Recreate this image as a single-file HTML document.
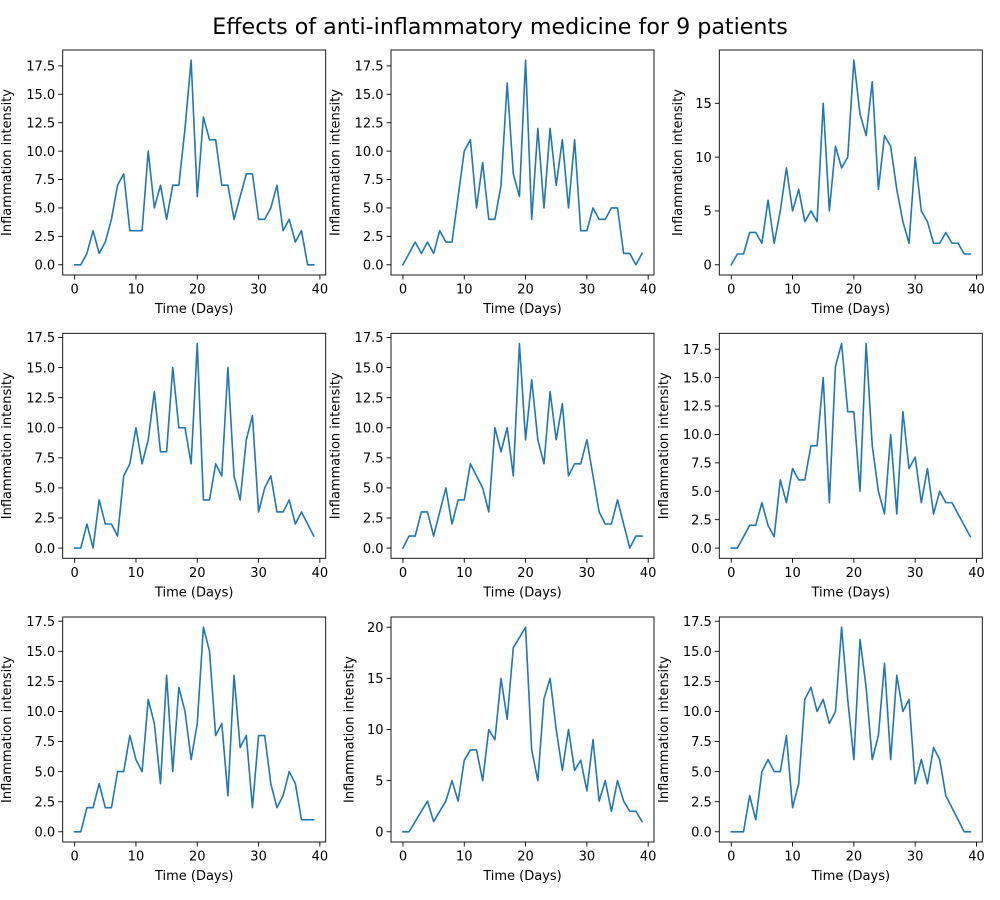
<!DOCTYPE html>
<html><head><meta charset="utf-8"><style>
html,body{margin:0;padding:0;background:#fff;}
svg{display:block;font-family:"DejaVu Sans","Liberation Sans",sans-serif;}
</style></head><body>
<svg id="fig" width="1000" height="900" viewBox="0 0 1000 900" xmlns="http://www.w3.org/2000/svg">
<rect width="1000" height="900" fill="#fff"/>
<text x="500" y="34" text-anchor="middle" font-size="22.2" fill="#000">Effects of anti-inflammatory medicine for 9 patients</text>
</svg>
<script>
const days = Array.from({length:40},(_, i)=>i);
const patient1 = [0,0,1,3,1,2,4,7,8,3,3,3,10,5,7,4,7,7,12,18,6,13,11,11,7,7,4,6,8,8,4,4,5,7,3,4,2,3,0,0];
const patient2 = [0,1,2,1,2,1,3,2,2,6,10,11,5,9,4,4,7,16,8,6,18,4,12,5,12,7,11,5,11,3,3,5,4,4,5,5,1,1,0,1];
const patient3 = [0,1,1,3,3,2,6,2,5,9,5,7,4,5,4,15,5,11,9,10,19,14,12,17,7,12,11,7,4,2,10,5,4,2,2,3,2,2,1,1];
const patient4 = [0,0,2,0,4,2,2,1,6,7,10,7,9,13,8,8,15,10,10,7,17,4,4,7,6,15,6,4,9,11,3,5,6,3,3,4,2,3,2,1];
const patient5 = [0,1,1,3,3,1,3,5,2,4,4,7,6,5,3,10,8,10,6,17,9,14,9,7,13,9,12,6,7,7,9,6,3,2,2,4,2,0,1,1];
const patient6 = [0,0,1,2,2,4,2,1,6,4,7,6,6,9,9,15,4,16,18,12,12,5,18,9,5,3,10,3,12,7,8,4,7,3,5,4,4,3,2,1];
const patient7 = [0,0,2,2,4,2,2,5,5,8,6,5,11,9,4,13,5,12,10,6,9,17,15,8,9,3,13,7,8,2,8,8,4,2,3,5,4,1,1,1];
const patient8 = [0,0,1,2,3,1,2,3,5,3,7,8,8,5,10,9,15,11,18,19,20,8,5,13,15,10,6,10,6,7,4,9,3,5,2,5,3,2,2,1];
const patient9 = [0,0,0,3,1,5,6,5,5,8,2,4,11,12,10,11,9,10,17,11,6,16,12,6,8,14,6,13,10,11,4,6,4,7,6,3,2,1,0,0];
const xTicks = [0,10,20,30,40];
const yTicksDecimal = [0,2.5,5,7.5,10,12.5,15,17.5];
const yTicksInt5 = [0,5,10,15];
const yTicksInt5to20 = [0,5,10,15,20];

const series = [patient1,patient2,patient3,patient4,patient5,patient6,patient7,patient8,patient9];
const colLeft = [62.7,391,719.3];
const rowTop = [50,333.3,617];
const W = 263, H = 225;
const NS = "http://www.w3.org/2000/svg";
const svg = document.getElementById('fig');
function mk(tag, attrs, parent){
  const e = document.createElementNS(NS, tag);
  for (const k in attrs) e.setAttribute(k, attrs[k]);
  (parent||svg).appendChild(e);
  return e;
}
series.forEach((vals, idx)=>{
  const r = Math.floor(idx/3), c = idx%3;
  const L = colLeft[c], T = rowTop[r];
  const g = mk('g', {});
  
  
  const xmin = -1.95, xmax = 40.95;
  const vmax = Math.max(...vals), vmin = Math.min(...vals);
  const pad = (vmax - vmin) * 0.05;
  const ymin = vmin - pad, ymax = vmax + pad;
  const sx = v => L + (v - xmin) / (xmax - xmin) * W;
  const sy = v => T + H - (v - ymin) / (ymax - ymin) * H;
  let ticks, decimal;
  if (vmax <= 18) { ticks = yTicksDecimal; decimal = true; }
  else if (vmax < 20) { ticks = yTicksInt5; decimal = false; }
  else { ticks = yTicksInt5to20; decimal = false; }
  ticks = ticks.filter(t => t >= ymin && t <= ymax);
  const d = vals.map((v,i)=>(i?'L':'M') + sx(days[i]).toFixed(2) + ',' + sy(v).toFixed(2)).join(' ');
  const line = mk('path', {d: d, fill:'none', stroke:'#1f77b4', 'stroke-width':'1.6', 'stroke-linejoin':'round', 'stroke-linecap':'square'}, g);
  
  
  const fr = mk('rect', {x:L, y:T, width:W, height:H, fill:'none', stroke:'#000', 'stroke-width':'0.9'}, g);
  
  
  xTicks.forEach(t=>{
    const x = sx(t);
    mk('line', {x1:x, x2:x, y1:T+H, y2:T+H+4.5, stroke:'#000', 'stroke-width':'0.9'}, g);
    const tx = mk('text', {x:x, y:T+H+18.5, 'text-anchor':'middle', 'font-size':'13', fill:'#000'}, g);
    tx.textContent = String(t);
    
    
  });
  ticks.forEach(t=>{
    const y = sy(t);
    mk('line', {x1:L-4.5, x2:L, y1:y, y2:y, stroke:'#000', 'stroke-width':'0.9'}, g);
    const ty = mk('text', {x:L-7.5, y:y+4.7, 'text-anchor':'end', 'font-size':'13', fill:'#000'}, g);
    ty.textContent = decimal ? t.toFixed(1) : String(t);
    
    
  });
  const xl = mk('text', {x:L+W/2, y:T+H+38, 'text-anchor':'middle', 'font-size':'13', fill:'#000'}, g);
  xl.textContent = 'Time (Days)';
  
  
  const yx = decimal ? L - 55 : L - 41;
  const yl = mk('text', {x:yx, y:T+H/2, 'text-anchor':'middle', 'font-size':'13', fill:'#000', 'dominant-baseline':'central', transform:'rotate(-90 '+yx+' '+(T+H/2)+')'}, g);
  yl.textContent = 'Inflammation intensity';
  
  
});
</script>
</body></html>
